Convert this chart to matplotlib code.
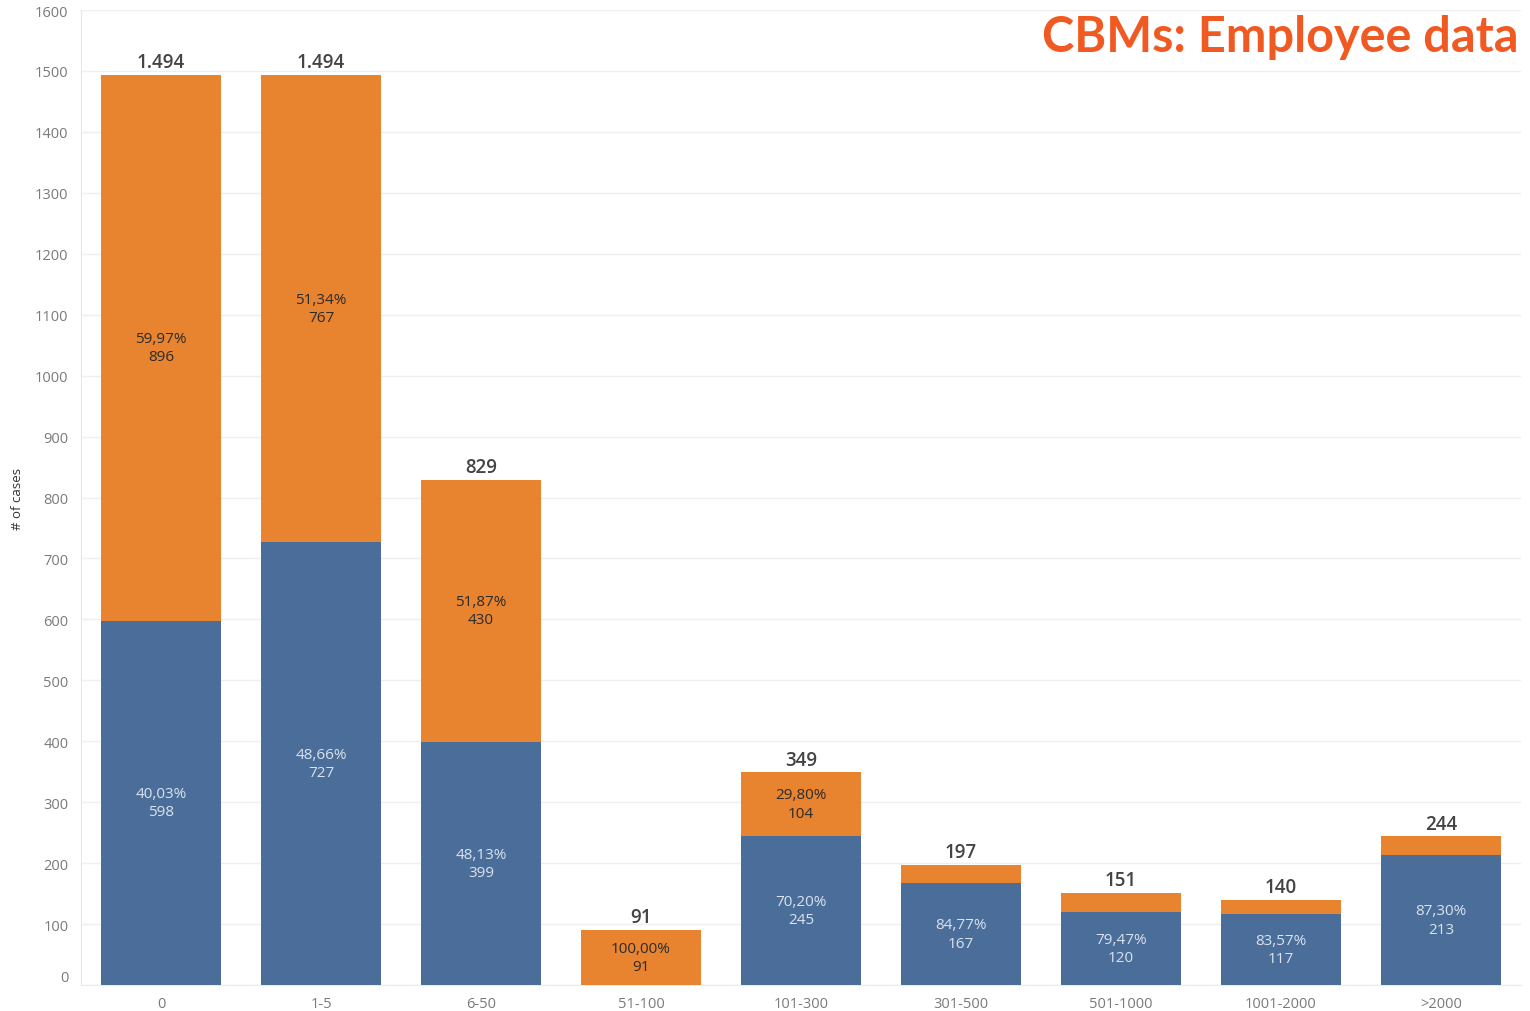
import matplotlib
matplotlib.use("Agg")
import matplotlib.pyplot as plt
import numpy as np

categories = ["0", "1-5", "6-50", "51-100", "101-300", "301-500", "501-1000", "1001-2000", ">2000"]
blue_vals = [598, 727, 399, 0, 245, 167, 120, 117, 213]
orange_vals = [896, 767, 430, 91, 104, 30, 31, 23, 31]
y_ticks = list(range(0, 1700, 100))

BLUE = "#4a6d9a"
ORANGE = "#e8832f"

W, H = 1530, 1012
fig = plt.figure(figsize=(W / 100, H / 100), dpi=100)
fig.patch.set_facecolor("white")
ax = fig.add_axes([81 / W, (H - 986) / H, (1521 - 81) / W, (986 - 11) / H])

x = np.arange(len(categories))
blue = np.array(blue_vals)
orange = np.array(orange_vals)
total = blue + orange

ax.bar(x, blue, width=0.75, color=BLUE, zorder=3)
ax.bar(x, orange, width=0.75, bottom=blue, color=ORANGE, zorder=3)

ax.set_xlim(-0.5, len(categories) - 0.5)
ax.set_ylim(0, 1600)
ax.set_yticks(y_ticks)
ax.set_yticklabels([str(v) for v in y_ticks])
ax.set_xticks(x)
ax.set_xticklabels(categories)
ax.tick_params(axis="both", length=0, labelcolor="#7a7a7a")
ax.tick_params(axis="x", pad=8, labelsize=10.5)
ax.tick_params(axis="y", pad=9, labelsize=10.5)
for lbl in ax.get_yticklabels():
    lbl.set_fontfamily("Open Sans")
for lbl in ax.get_xticklabels():
    lbl.set_fontfamily("Open Sans")
ax.get_yticklabels()[0].set_verticalalignment("bottom")

ax.grid(axis="y", color="#efefef", linewidth=1, zorder=0)
ax.set_axisbelow(True)
for s in ["top", "right"]:
    ax.spines[s].set_visible(False)
ax.spines["left"].set_color("#e6e6e6")
ax.spines["bottom"].set_color("#ececec")

ax.set_ylabel("# of cases", fontsize=9.5, color="#333333", fontfamily="Open Sans", labelpad=8)


def fmt_pct(v):
    return f"{v:.2f}%".replace(".", ",")


def fmt_total(v):
    return f"{v:,}".replace(",", ".")


for i in range(len(categories)):
    t = total[i]
    if blue[i] >= 60:
        ax.text(x[i], blue[i] / 2, f"{fmt_pct(100 * blue[i] / t)}\n{blue[i]}",
                ha="center", va="center", fontsize=11, color="#dbe3ee",
                fontfamily="Open Sans", linespacing=1.3, zorder=4)
    if orange[i] >= 60:
        ax.text(x[i], blue[i] + orange[i] / 2, f"{fmt_pct(100 * orange[i] / t)}\n{orange[i]}",
                ha="center", va="center", fontsize=11, color="#2b2b2b",
                fontfamily="Open Sans", linespacing=1.3, zorder=4)
    ax.annotate(fmt_total(t), (x[i], t), xytext=(0, 2), textcoords="offset points",
                ha="center", va="bottom", fontsize=13.5, color="#444444",
                fontfamily="Open Sans", fontweight="semibold", zorder=4)

fig.text(1518 / W, 1 - 37 / H, "CBMs: Employee data", ha="right", va="center",
         fontsize=35, fontweight="bold", color="#f05a22", fontfamily="Lato")

fig.savefig("out.png", dpi=100, facecolor="white")
